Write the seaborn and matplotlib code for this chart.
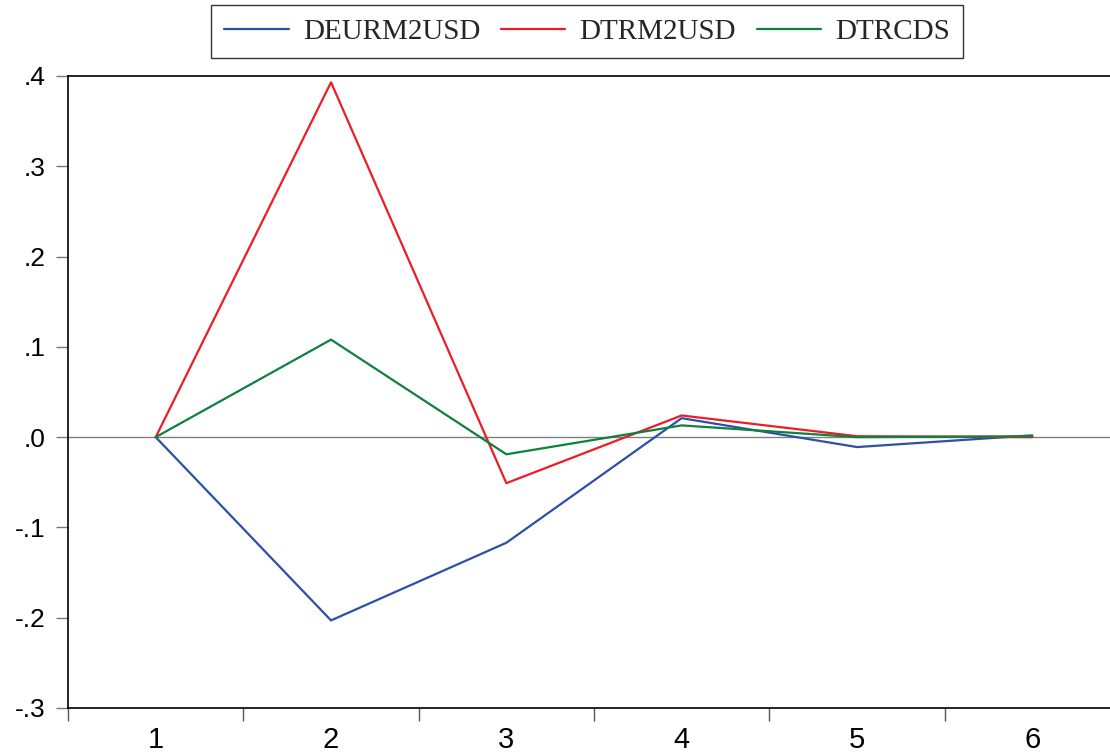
# impulse responses, EViews style line chart

import pandas as pd
import numpy as np
import matplotlib
matplotlib.use('Agg')
import matplotlib.pyplot as plt
import seaborn as sns

periods = [1, 2, 3, 4, 5, 6]
deurm2usd = [0.000, -0.203, -0.117, 0.021, -0.011, 0.002]
dtrm2usd = [0.000, 0.393, -0.051, 0.024, 0.001, 0.000]
dtrcds = [0.000, 0.108, -0.019, 0.013, 0.000, 0.001]
series_names = ['DEURM2USD', 'DTRM2USD', 'DTRCDS']
colors = ['#2E4FA8', '#EE1C25', '#0E8040']
ytick_vals = [-0.3, -0.2, -0.1, 0.0, 0.1, 0.2, 0.3, 0.4]
ytick_labels = ['-.3', '-.2', '-.1', '.0', '.1', '.2', '.3', '.4']

df = pd.DataFrame({
    'period': periods * 3,
    'value': deurm2usd + dtrm2usd + dtrcds,
    'series': [s for s in series_names for _ in periods],
})

sns.set_style('white')
plt.rcParams['font.family'] = ['Liberation Sans', 'DejaVu Sans']

fig = plt.figure(figsize=(11.1, 7.56), dpi=100)
ax = fig.add_axes([0.0613, 0.0635, 0.9477, 0.836])

ax.axhline(0, color='#808080', linewidth=1.0, zorder=1)

sns.lineplot(data=df, x='period', y='value', hue='series',
             hue_order=series_names, palette=colors,
             linewidth=1.6, ax=ax, legend=False, zorder=3)

ax.set_xlim(0.5, 6.5)
ax.set_ylim(-0.3, 0.4)

# x ticks: marks at boundaries, labels at centers
ax.set_xticks(np.arange(0.5, 7.0, 1.0))
ax.set_xticklabels([])
ax.set_xticks(periods, minor=True)
ax.set_xticklabels([str(p) for p in periods], minor=True, fontsize=21)
ax.tick_params(axis='x', which='major', direction='out', length=9.5, width=1,
               color='#555555', bottom=True)
ax.tick_params(axis='x', which='minor', length=0, pad=13, labelcolor='black')

ax.set_yticks(ytick_vals)
ax.set_yticklabels(ytick_labels, fontsize=19)
ax.tick_params(axis='y', direction='out', length=9, width=1, left=True,
               color='#777777', pad=7, labelcolor='black')

ax.set_xlabel('')
ax.set_ylabel('')

for side in ['top', 'left', 'bottom']:
    ax.spines[side].set_visible(True)
    ax.spines[side].set_color('black')
    ax.spines[side].set_linewidth(1.2)
ax.spines['right'].set_visible(False)

handles = [plt.Line2D([], [], color=c, linewidth=1.6) for c in colors]
leg = fig.legend(handles, series_names, loc='upper center',
                 bbox_to_anchor=(0.529, 0.993), ncol=3, frameon=True,
                 fancybox=False, edgecolor='black', handlelength=2.2,
                 handletextpad=0.5, columnspacing=0.7, borderpad=0.45,
                 borderaxespad=0.0,
                 prop={'family': 'Liberation Serif', 'size': 21})
leg.get_frame().set_linewidth(1.0)

plt.savefig('out.png', dpi=100)
